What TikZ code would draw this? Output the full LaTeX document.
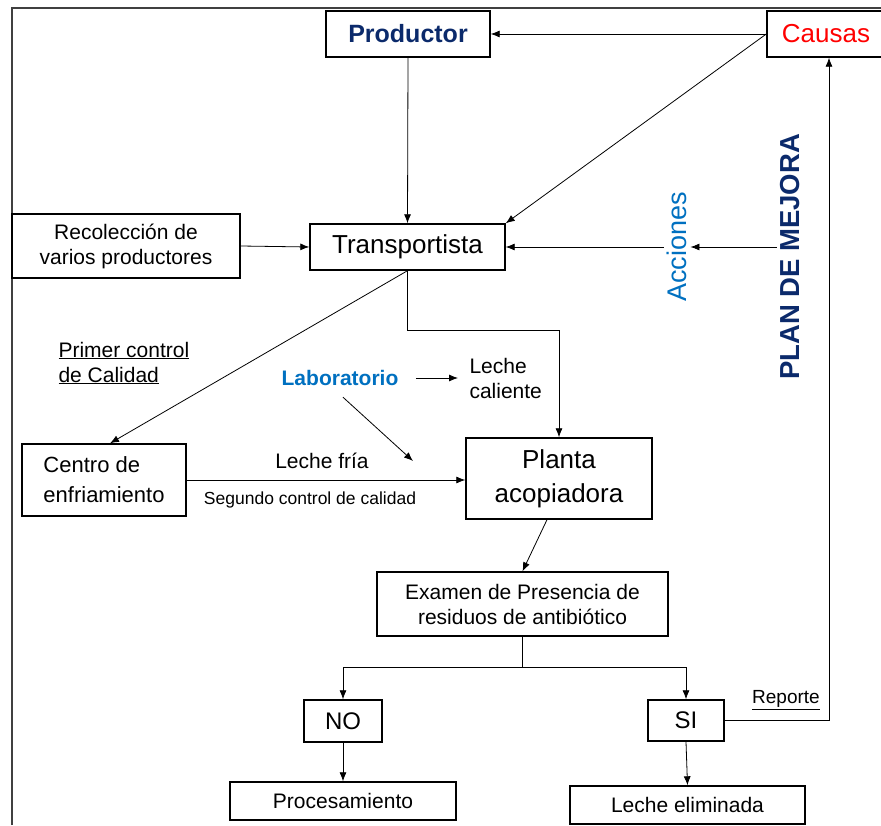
\documentclass[tikz,border=0pt]{standalone}
\usepackage{fontspec}
\setmainfont{Liberation Sans}
\usetikzlibrary{arrows.meta,positioning,calc}
\definecolor{navy}{HTML}{0B2A6B}
\definecolor{azul}{HTML}{0070C0}

\begin{document}
\begin{tikzpicture}[x=1pt,y=-1pt,
    box/.style={draw,line width=1.4pt,inner sep=0pt,align=center},
    arr/.style={-{Latex[length=9pt,width=7pt]},line width=0.8pt},
    big/.style={font=\fontsize{26}{30}\selectfont},
    med/.style={font=\fontsize{21}{25}\selectfont}]
    \useasboundingbox (0,0) rectangle (881,826);
    \draw[line width=1.6pt,black!75] (12,825) -- (12,8) -- (881,8);

    \node[box,minimum width=164,minimum height=46,font=\fontsize{25}{30}\selectfont\bfseries,text=navy] (productor) at (408,34) {Productor};
    \node[box,big,minimum width=118,minimum height=46,text=red] (causas) at (826,34) {Causas};
    \node[box,big,minimum width=195,minimum height=46] (transp) at (407.5,247) {Transportista};
    \node[box,med,minimum width=228,minimum height=64] (recol) at (126,246) {Recolección de\\varios productores};
    \node[box,font=\fontsize{22}{30}\selectfont,align=left,minimum width=164,minimum height=72] (centro) at (104,480) {Centro de\\enfriamiento};
    \node[box,big,minimum width=186,minimum height=81,font=\fontsize{26}{34}\selectfont] (planta) at (559,478.5) {Planta\\acopiadora};
    \node[box,med,minimum width=291,minimum height=64] (examen) at (522.5,604) {Examen de Presencia de\\residuos de antibiótico};
    \node[box,font=\fontsize{24}{28}\selectfont,minimum width=78,minimum height=42] (no) at (343,721) {NO};
    \node[box,font=\fontsize{24}{28}\selectfont,minimum width=76,minimum height=41] (si) at (686,720.5) {SI};
    \node[box,med,minimum width=226,minimum height=38] (proc) at (343,801) {Procesamiento};
    \node[box,med,minimum width=235,minimum height=38] (elim) at (687.5,805) {Leche eliminada};

    \node[med,align=left,anchor=west,font=\fontsize{21}{25}\selectfont] (primer) at (55,363) {\underline{Primer control}\\\underline{de Calidad}};
    \node[font=\fontsize{21}{25}\selectfont\bfseries,text=azul] (lab) at (340,378) {Laboratorio};
    \node[med,align=left,anchor=west] (caliente) at (466,378) {Leche\\caliente};
    \node[med] (fria) at (322,461) {Leche fría};
    \node[font=\fontsize{17.5}{21}\selectfont] (segundo) at (310,500) {Segundo control de calidad};
    \node[font=\fontsize{19}{22}\selectfont] (reporte) at (786,700) {\underline{Reporte}};
    \node[rotate=90,font=\fontsize{27}{30}\selectfont,text=azul] (acc) at (677,247) {Acciones};
    \node[rotate=90,font=\fontsize{27.5}{30}\selectfont\bfseries,text=navy] (plan) at (790,257) {PLAN DE MEJORA};
    \coordinate (labtip) at (413,461);

    \draw[arr] (causas.west) -- (productor.east);
    \draw[arr] (causas.west) -- (transp.north east);
    \draw[arr] (productor.south) -- (transp.north);
    \draw[arr] (recol.east) -- (transp.west);
    \draw[arr] (acc.north |- transp.east) -- (transp.east);
    \draw[arr] (plan.north |- acc.center) -- (acc.south);
    \draw[arr] (transp.south) -- ++(0,60) -| (planta.north);
    \draw[arr] (transp.south) -- ([xshift=6]centro.north);
    \draw[arr] (centro.east) -- (centro.east -| planta.west);
    \draw[arr,shorten <=14pt,shorten >=8pt] (lab.east) -- (caliente.west);
    \draw[arr] ([xshift=3,yshift=-8]lab.south) -- (labtip);
    \draw[arr] ([xshift=-12]planta.south) -- (examen.north);
    \draw[arr] (examen.south) -- ++(0,31) -| (no.north);
    \draw[arr] (examen.south) -- ++(0,31) -| (si.north);
    \draw[arr] (no.south) -- (proc.north);
    \draw[arr] (si.south) -- (elim.north);
    \draw[arr] (si.east) -| ([xshift=3]causas.south);
\end{tikzpicture}
\end{document}
